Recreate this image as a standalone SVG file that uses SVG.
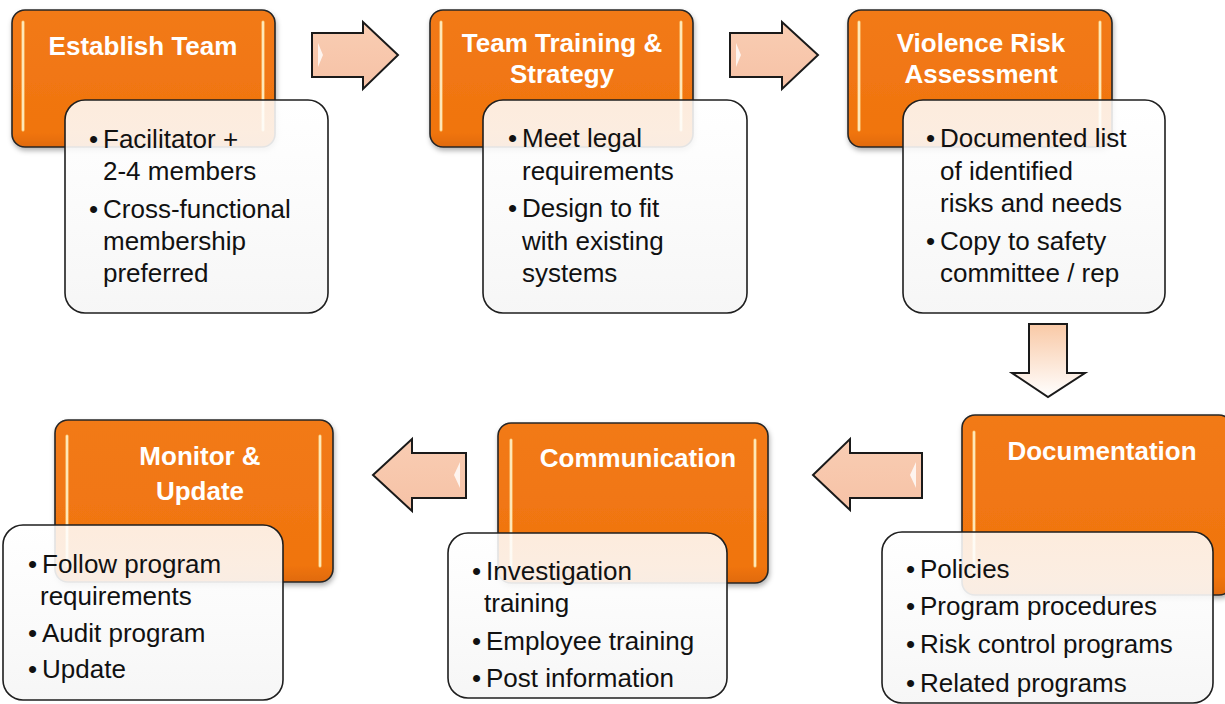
<svg xmlns="http://www.w3.org/2000/svg" width="1225" height="704" viewBox="0 0 1225 704">
<style>
.org{fill:url(#og);stroke:#262626;stroke-width:1.6}
.gl{stroke:#FFE39A;stroke-width:3;stroke-linecap:round;opacity:0.85}
.glc{stroke:#FFFBEA;stroke-width:1;stroke-linecap:round}
.wb{fill:url(#wg);stroke:#1f1f1f;stroke-width:1.6}
.tt{font-family:"Liberation Sans",Arial,sans-serif;font-weight:bold;font-size:26px;fill:#fff;text-anchor:middle}
.bt{font-family:"Liberation Sans",Arial,sans-serif;font-size:26px;fill:#111}
.ar{fill:url(#ag);stroke:#1a1a1a;stroke-width:2;stroke-linejoin:miter}
.hl{fill:#fff;opacity:0.8}
</style>
<defs>
<linearGradient id="og" x1="0" y1="0" x2="0" y2="1">
<stop offset="0" stop-color="#F27A16"/>
<stop offset="0.9" stop-color="#F0740F"/>
<stop offset="1" stop-color="#E06A0C"/>
</linearGradient>
<linearGradient id="wg" x1="0" y1="0" x2="0" y2="1">
<stop offset="0" stop-color="#ffffff" stop-opacity="0.86"/>
<stop offset="1" stop-color="#f6f6f6" stop-opacity="0.97"/>
</linearGradient>
<linearGradient id="ag" x1="0" y1="0" x2="0" y2="1">
<stop offset="0" stop-color="#F9CDB3"/>
<stop offset="1" stop-color="#F6C2A6"/>
</linearGradient>
<linearGradient id="dg" x1="0" y1="0" x2="0" y2="1">
<stop offset="0" stop-color="#F9C9A6"/>
<stop offset="1" stop-color="#FFFFFF"/>
</linearGradient>
<filter id="sh" x="-10%" y="-10%" width="120%" height="130%">
<feDropShadow dx="1" dy="3" stdDeviation="2.5" flood-color="#000" flood-opacity="0.3"/>
</filter>
</defs>
<rect width="1225" height="704" fill="#fff"/>

<g id="connectors">
<path class="ar" d="M312,33 H363 V22 L398,55 L363,89 V77 H312 Z"/>
<path class="hl" d="M318,43 L323,55 L318,67 Z"/>
<path class="ar" d="M730,33 H782 V22 L818,55 L782,89 V77 H730 Z"/>
<path class="hl" d="M736,43 L741,55 L736,67 Z"/>
<path d="M1029,324 H1067 V373 H1085 L1048,397 L1012,373 H1029 Z" fill="url(#dg)" stroke="#1a1a1a" stroke-width="2"/>
<path class="ar" d="M922,453 V498 H850 V510 L813,475 L850,439 V453 Z"/>
<path class="hl" d="M916,462 L910,475 L916,488 Z"/>
<path class="ar" d="M466,453 V498 H412 V511 L373,475 L412,439 V453 Z"/>
<path class="hl" d="M460,462 L454,475 L460,488 Z"/>
</g>

<g id="n1">
<rect class="org" x="12" y="10" width="263" height="137" rx="13" filter="url(#sh)"/>
<line class="gl" x1="23" y1="22" x2="23" y2="130"/><line class="glc" x1="23" y1="22" x2="23" y2="130"/>
<line class="gl" x1="263" y1="22" x2="263" y2="130"/><line class="glc" x1="263" y1="22" x2="263" y2="130"/>
<text class="tt" x="143" y="55">Establish Team</text>
<rect class="wb" x="65" y="100" width="263" height="213" rx="20"/>
<text class="bt" x="89" y="148">•</text><text class="bt" x="103" y="148">Facilitator +</text>
<text class="bt" x="103" y="180">2-4 members</text>
<text class="bt" x="89" y="218">•</text><text class="bt" x="103" y="218">Cross-functional</text>
<text class="bt" x="103" y="250">membership</text>
<text class="bt" x="103" y="282">preferred</text>
</g>

<g id="n2">
<rect class="org" x="430" y="10" width="263" height="137" rx="13" filter="url(#sh)"/>
<line class="gl" x1="441" y1="22" x2="441" y2="130"/><line class="glc" x1="441" y1="22" x2="441" y2="130"/>
<line class="gl" x1="681" y1="22" x2="681" y2="130"/><line class="glc" x1="681" y1="22" x2="681" y2="130"/>
<text class="tt" x="562" y="52">Team Training &amp;</text>
<text class="tt" x="562" y="83">Strategy</text>
<rect class="wb" x="483" y="100" width="264" height="213" rx="20"/>
<text class="bt" x="508" y="147">•</text><text class="bt" x="522" y="147">Meet legal</text>
<text class="bt" x="522" y="180">requirements</text>
<text class="bt" x="508" y="217">•</text><text class="bt" x="522" y="217">Design to fit</text>
<text class="bt" x="522" y="250">with existing</text>
<text class="bt" x="522" y="282">systems</text>
</g>

<g id="n3">
<rect class="org" x="848" y="10" width="264" height="137" rx="13" filter="url(#sh)"/>
<line class="gl" x1="859" y1="22" x2="859" y2="130"/><line class="glc" x1="859" y1="22" x2="859" y2="130"/>
<line class="gl" x1="1100" y1="22" x2="1100" y2="130"/><line class="glc" x1="1100" y1="22" x2="1100" y2="130"/>
<text class="tt" x="981" y="52">Violence Risk</text>
<text class="tt" x="981" y="83">Assessment</text>
<rect class="wb" x="903" y="100" width="262" height="213" rx="20"/>
<text class="bt" x="926" y="147">•</text><text class="bt" x="940" y="147">Documented list</text>
<text class="bt" x="940" y="180">of identified</text>
<text class="bt" x="940" y="212">risks and needs</text>
<text class="bt" x="926" y="250">•</text><text class="bt" x="940" y="250">Copy to safety</text>
<text class="bt" x="940" y="282">committee / rep</text>
</g>

<g id="n4">
<rect class="org" x="962" y="415" width="270" height="180" rx="13" filter="url(#sh)"/>
<line class="gl" x1="974" y1="432" x2="974" y2="578"/><line class="glc" x1="974" y1="432" x2="974" y2="578"/>
<text class="tt" x="1102" y="460">Documentation</text>
<rect class="wb" x="882" y="532" width="331" height="171" rx="20"/>
<text class="bt" x="906" y="578">•</text><text class="bt" x="920" y="578">Policies</text>
<text class="bt" x="906" y="615">•</text><text class="bt" x="920" y="615">Program procedures</text>
<text class="bt" x="906" y="653">•</text><text class="bt" x="920" y="653">Risk control programs</text>
<text class="bt" x="906" y="692">•</text><text class="bt" x="920" y="692">Related programs</text>
</g>

<g id="n5">
<rect class="org" x="498" y="423" width="270" height="160" rx="13" filter="url(#sh)"/>
<line class="gl" x1="511" y1="440" x2="511" y2="566"/><line class="glc" x1="511" y1="440" x2="511" y2="566"/>
<line class="gl" x1="755" y1="440" x2="755" y2="566"/><line class="glc" x1="755" y1="440" x2="755" y2="566"/>
<text class="tt" x="638" y="467">Communication</text>
<rect class="wb" x="448" y="533" width="279" height="165" rx="20"/>
<text class="bt" x="472" y="580">•</text><text class="bt" x="486" y="580">Investigation</text>
<text class="bt" x="484" y="612">training</text>
<text class="bt" x="472" y="650">•</text><text class="bt" x="486" y="650">Employee training</text>
<text class="bt" x="472" y="687">•</text><text class="bt" x="486" y="687">Post information</text>
</g>

<g id="n6">
<rect class="org" x="55" y="420" width="278" height="162" rx="13" filter="url(#sh)"/>
<line class="gl" x1="67" y1="436" x2="67" y2="566"/><line class="glc" x1="67" y1="436" x2="67" y2="566"/>
<line class="gl" x1="320" y1="436" x2="320" y2="566"/><line class="glc" x1="320" y1="436" x2="320" y2="566"/>
<text class="tt" x="200" y="465">Monitor &amp;</text>
<text class="tt" x="200" y="500">Update</text>
<rect class="wb" x="3" y="525" width="280" height="175" rx="20"/>
<text class="bt" x="28" y="573">•</text><text class="bt" x="42" y="573">Follow program</text>
<text class="bt" x="40" y="605">requirements</text>
<text class="bt" x="28" y="642">•</text><text class="bt" x="42" y="642">Audit program</text>
<text class="bt" x="28" y="678">•</text><text class="bt" x="42" y="678">Update</text>
</g>
</svg>
